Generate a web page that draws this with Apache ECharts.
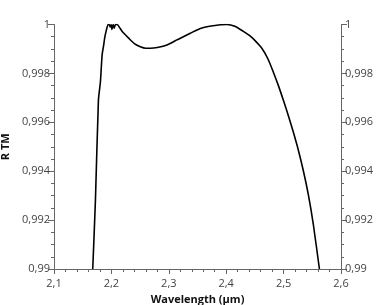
<!DOCTYPE html>
<html>
<head>
<meta charset="utf-8">
<script src="https://cdn.jsdelivr.net/npm/echarts@6/dist/echarts.min.js"></script>
<style>html,body{margin:0;padding:0;background:#fff}#c{width:382px;height:305px}</style>
</head>
<body>
<div id="c"></div>
<script>
const wavelength = [2.1675, 2.1722, 2.1774, 2.1809, 2.1838, 2.1865, 2.1883, 2.1910, 2.1943, 2.196, 2.198, 2.1995, 2.201, 2.203, 2.205, 2.207, 2.2099, 2.215, 2.220, 2.2301, 2.240, 2.2504, 2.260, 2.2678, 2.280, 2.2969, 2.315, 2.3374, 2.355, 2.3774, 2.390, 2.4012, 2.415, 2.4293, 2.4415, 2.4519, 2.4624, 2.4728, 2.4820, 2.4908, 2.4995, 2.5082, 2.5169, 2.5256, 2.5343, 2.5430, 2.5517, 2.5624];
const rTM = [0.99, 0.99282, 0.99691, 0.99766, 0.99875, 0.99915, 0.99945, 0.99975, 1.0, 1.0, 0.9999, 1.0, 0.9998, 1.0, 0.99985, 1.0, 1.0, 0.99985, 0.99968, 0.99944, 0.99922, 0.99909, 0.99903, 0.99903, 0.99906, 0.99916, 0.99938, 0.99964, 0.99984, 0.99995, 0.99999, 1.0, 0.99993, 0.99973, 0.99953, 0.99930, 0.99902, 0.99859, 0.99806, 0.99751, 0.99691, 0.99628, 0.99560, 0.99487, 0.99403, 0.99305, 0.99184, 0.99];
const xTitle = 'Wavelength (µm)';
const yTitle = 'R TM';

const fmt = (v, d) => {
  let s = v.toFixed(d);
  if (s.indexOf('.') >= 0) s = s.replace(/0+$/, '').replace(/\.$/, '');
  return s.replace('.', ',');
};
const axisColor = '#666';
const font = '"Open Sans", "Noto Sans", sans-serif';
const yAxisBase = (pos) => ({
  type: 'value', position: pos, min: 0.99, max: 1, interval: 0.002,
  axisLine: { show: true, lineStyle: { color: axisColor, width: 1 } },
  axisTick: { show: true, length: 6, lineStyle: { color: axisColor } },
  minorTick: { show: true, splitNumber: 4, length: 3, lineStyle: { color: axisColor } },
  splitLine: { show: false },
  axisLabel: { color: '#444', fontSize: 11, fontFamily: font, margin: 4, formatter: v => fmt(v, 3) }
});
const chart = echarts.init(document.getElementById('c'), null, { renderer: 'canvas' });
chart.setOption({
  animation: false,
  backgroundColor: '#fff',
  grid: { left: 54, right: 41, top: 24.5, bottom: 36, containLabel: false, outerBoundsMode: 'none' },
  xAxis: {
    type: 'value', min: 2.1, max: 2.6, interval: 0.1,
    name: xTitle, nameLocation: 'middle', nameGap: 22,
    nameTextStyle: { color: '#111', fontWeight: 'bold', fontSize: 11, fontFamily: font },
    axisLine: { show: true, onZero: false, lineStyle: { color: axisColor, width: 1 } },
    axisTick: { show: true, length: 5, lineStyle: { color: axisColor } },
    minorTick: { show: true, splitNumber: 5, length: 3, lineStyle: { color: axisColor } },
    splitLine: { show: false },
    axisLabel: { color: '#444', fontSize: 11, fontFamily: font, margin: 9, formatter: v => fmt(v, 1) }
  },
  yAxis: [
    Object.assign(yAxisBase('left'), {
      name: yTitle, nameLocation: 'middle', nameGap: 40, nameRotate: 90,
      nameTextStyle: { color: '#111', fontWeight: 'bold', fontSize: 11, fontFamily: font }
    }),
    yAxisBase('right')
  ],
  series: [{
    type: 'line', data: wavelength.map((x, i) => [x, rTM[i]]),
    showSymbol: false, symbol: 'none', clip: true, smooth: 0.2,
    lineStyle: { color: '#000', width: 1.6 }
  }]
});
</script>
</body>
</html>
